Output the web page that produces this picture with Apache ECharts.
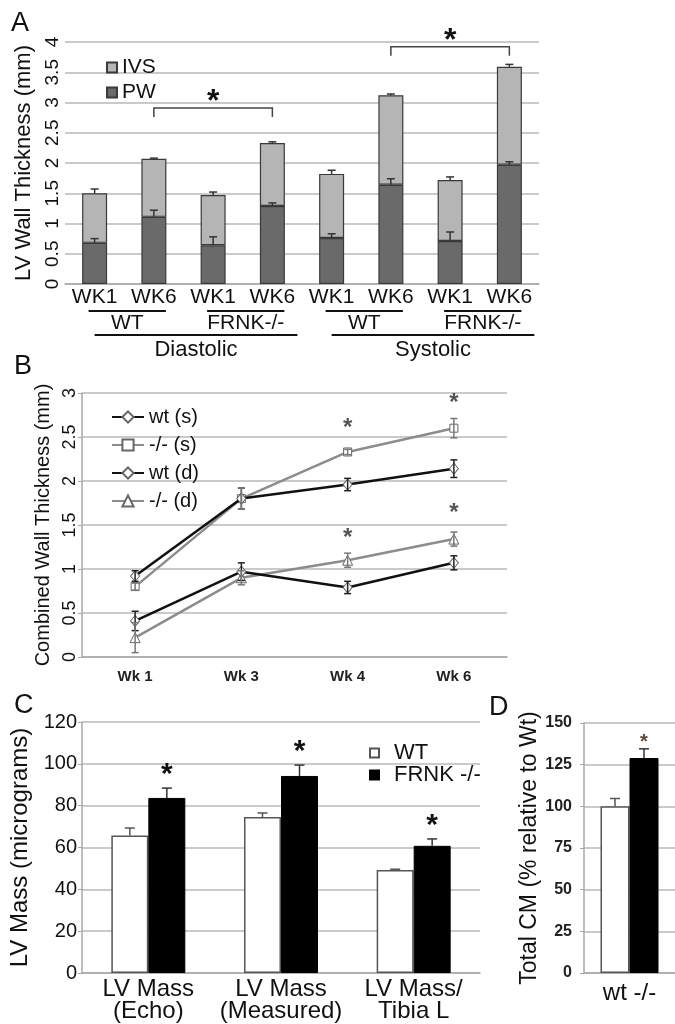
<!DOCTYPE html>
<html>
<head>
<meta charset="utf-8">
<script src="https://cdn.jsdelivr.net/npm/echarts@6/dist/echarts.min.js"></script>
<style>
  html, body { margin: 0; padding: 0; background: #fff; }
  #main { width: 675px; height: 1024px; }
</style>
</head>
<body>
<div id="main"></div>
<script>
var chartDom = document.getElementById('main');
var myChart = echarts.init(chartDom);
var option;

const FONT = '"Liberation Sans", Arial, sans-serif';

// ---- panel A: LV wall thickness (stacked PW + IVS)
const categoriesA = ['WK1', 'WK6', 'WK1', 'WK6', 'WK1', 'WK6', 'WK1', 'WK6'];
const pwA = [0.68, 1.11, 0.64, 1.29, 0.76, 1.64, 0.71, 1.97];
const ivsA = [0.82, 0.96, 0.83, 1.04, 1.06, 1.48, 1.01, 1.62];
const pwErrA = [0.07, 0.11, 0.14, 0.05, 0.07, 0.10, 0.15, 0.05];
const totalErrA = [0.07, 0.01, 0.05, 0.02, 0.06, 0.02, 0.05, 0.04];
const bracketsA = [[1, 3, 2.91], [5, 7, 3.92]];
const groupLabelsA = ['WT', 'FRNK-/-', 'WT', 'FRNK-/-'];
const groupSpansA = [[0, 1], [2, 3], [4, 5], [6, 7]];
const phaseLabelsA = ['Diastolic', 'Systolic'];
const phaseSpansA = [[0, 3], [4, 7]];

// ---- panel B: combined wall thickness over time
const categoriesB = ['Wk 1', 'Wk 3', 'Wk 4', 'Wk 6'];
const wtS = [0.92, 1.80, 1.96, 2.14];
const wtSErr = [0.06, 0.12, 0.07, 0.10];
const koS = [0.80, 1.80, 2.33, 2.60];
const koSErr = [0.04, 0.12, 0.03, 0.11];
const wtDia = [0.41, 0.97, 0.79, 1.07];
const wtDiaErr = [0.11, 0.10, 0.07, 0.08];
const koDia = [0.22, 0.90, 1.10, 1.34];
const koDiaErr = [0.17, 0.08, 0.08, 0.08];
const starsB = [[2, 2.66], [3, 2.94], [2, 1.41], [3, 1.69]];

// ---- panel C: LV mass
const categoriesC = ['LV Mass\n(Echo)', 'LV Mass\n(Measured)', 'LV Mass/\nTibia L'];
const wtC = [65.7, 74.6, 49.2];
const wtCErr = [3.6, 1.9, 0.4];
const koC = [83.7, 94.2, 60.8];
const koCErr = [4.7, 5.2, 3.3];
const sigC = [1, 1, 1];

// ---- panel D: total CM
const categoriesD = ['wt -/-'];
const cmWt = [100];
const cmWtErr = [4.7];
const cmKo = [129];
const cmKoErr = [5.5];
const sigD = [1];

function txt(text, x, y, font, color, align, valign) {
  return {
    type: 'text',
    style: {
      text: text, x: x, y: y, font: font, fill: color || '#111',
      align: align || 'center', verticalAlign: valign || 'middle',
      textAlign: align || 'center', textVerticalAlign: valign || 'middle'
    }
  };
}

function line(x1, y1, x2, y2, color, width) {
  return {
    type: 'line',
    shape: { x1: x1, y1: y1, x2: x2, y2: y2 },
    style: { stroke: color, lineWidth: width }
  };
}

// error bar series: data [catIndex, value, err]
function errorSeries(axis, data, offset, cap, color, both, star) {
  return {
    type: 'custom',
    xAxisIndex: axis, yAxisIndex: axis,
    data: data,
    encode: { x: 0, y: 1 },
    z: 5,
    renderItem: function (params, api) {
      const x = api.value(0), v = api.value(1), e = api.value(2);
      const p = api.coord([x, v]);
      const top = api.coord([x, v + e]);
      const cx = p[0] + offset;
      const ch = [];
      const bottomY = both ? api.coord([x, v - e])[1] : p[1];
      ch.push(line(cx, bottomY, cx, top[1], color, 1.5));
      ch.push(line(cx - cap / 2, top[1], cx + cap / 2, top[1], color, 1.5));
      if (both) ch.push(line(cx - cap / 2, bottomY, cx + cap / 2, bottomY, color, 1.5));
      if (star && star.flags[params.dataIndex]) {
        const fs = star.size;
        ch.push(txt('*', cx, top[1] - star.gap + 0.22 * fs, 'bold ' + fs + 'px ' + FONT, star.color));
      }
      return { type: 'group', children: ch };
    }
  };
}

function zip3(a, b, c) {
  return a.map((v, i) => [i, b[i], c[i]]);
}

const totalA = pwA.map((v, i) => v + ivsA[i]);

const axisGray = '#a8a8a8';
const gridGray = '#b8b8b8';

option = {
  animation: false,
  textStyle: { fontFamily: FONT, color: '#111' },
  graphic: [
    txt('A', 11, 24, '27px ' + FONT, '#111', 'left'),
    txt('B', 14, 367, '27px ' + FONT, '#111', 'left'),
    txt('C', 14, 706, '27px ' + FONT, '#111', 'left'),
    txt('D', 489, 708, '27px ' + FONT, '#111', 'left')
  ],
  legend: [
    {
      data: ['IVS', 'PW'],
      orient: 'vertical',
      left: 101, top: 52,
      itemWidth: 10, itemHeight: 10, itemGap: 4,
      icon: 'rect',
      textStyle: { fontSize: 21, color: '#111', lineHeight: 21 }
    },
    {
      data: ['wt (s)', '-/- (s)', 'wt (d)', '-/- (d)'],
      orient: 'vertical',
      left: 106, top: 402,
      itemWidth: 32, itemHeight: 14, itemGap: 8,
      textStyle: { fontSize: 20, color: '#111', lineHeight: 20 }
    },
    {
      data: ['WT', 'FRNK -/-'],
      orient: 'vertical',
      left: 364, top: 737,
      itemWidth: 9, itemHeight: 9, itemGap: 0,
      icon: 'rect',
      textStyle: { fontSize: 22, color: '#111', lineHeight: 20, padding: [0, 0, 0, 10] }
    }
  ],
  grid: [
    { left: 65, top: 42, width: 474, height: 242 },
    { left: 82, top: 393, width: 425, height: 264 },
    { left: 82, top: 722, width: 398, height: 251 },
    { left: 584, top: 723, width: 96, height: 250 }
  ],
  xAxis: [
    {
      gridIndex: 0, type: 'category', data: categoriesA,
      axisLine: { lineStyle: { color: axisGray, width: 1.5 } },
      axisTick: { length: 4, lineStyle: { color: axisGray } },
      axisLabel: { fontSize: 21, color: '#111', margin: 3, interval: 0 }
    },
    {
      gridIndex: 1, type: 'category', data: categoriesB,
      axisLine: { lineStyle: { color: axisGray, width: 1.5 } },
      axisTick: { length: 6, lineStyle: { color: axisGray } },
      axisLabel: { fontSize: 15, fontWeight: 'bold', color: '#222', margin: 12, interval: 0 }
    },
    {
      gridIndex: 2, type: 'category', data: categoriesC,
      axisLine: { lineStyle: { color: axisGray, width: 1.5 } },
      axisTick: { length: 5, lineStyle: { color: axisGray } },
      axisLabel: { fontSize: 24, color: '#111', margin: 5, lineHeight: 22, interval: 0 }
    },
    {
      gridIndex: 3, type: 'category', data: categoriesD,
      axisLine: { lineStyle: { color: axisGray, width: 1.5 } },
      axisTick: { show: false },
      axisLabel: { fontSize: 24, color: '#111', margin: 8, interval: 0 }
    }
  ],
  yAxis: [
    {
      gridIndex: 0, min: 0, max: 4, interval: 0.5,
      axisLine: { show: false }, axisTick: { show: false },
      splitLine: { lineStyle: { color: gridGray, width: 1.5 } },
      axisLabel: { rotate: 90, fontSize: 19, color: '#111', margin: 3 },
      name: 'LV Wall Thickness (mm)', nameLocation: 'middle', nameGap: 25,
      nameTextStyle: { fontSize: 22, color: '#111' }
    },
    {
      gridIndex: 1, min: 0, max: 3, interval: 0.5,
      axisLine: { show: true, lineStyle: { color: axisGray, width: 1.5 } },
      axisTick: { show: true, length: 4, lineStyle: { color: axisGray } },
      splitLine: { lineStyle: { color: gridGray, width: 1.5 } },
      axisLabel: { rotate: 90, fontSize: 18, color: '#111', margin: 3 },
      name: 'Combined Wall Thickness (mm)', nameLocation: 'middle', nameGap: 24,
      nameTextStyle: { fontSize: 20, color: '#111' }
    },
    {
      gridIndex: 2, min: 0, max: 120, interval: 20,
      axisLine: { show: true, lineStyle: { color: axisGray, width: 1.5 } },
      axisTick: { show: true, length: 4, lineStyle: { color: axisGray } },
      splitLine: { lineStyle: { color: gridGray, width: 1.5 } },
      axisLabel: { fontSize: 20, color: '#111', margin: 5 },
      name: 'LV Mass (micrograms)', nameLocation: 'middle', nameGap: 39,
      nameTextStyle: { fontSize: 24, color: '#111' }
    },
    {
      gridIndex: 3, min: 0, max: 150, interval: 25,
      axisLine: { show: true, lineStyle: { color: axisGray, width: 1.5 } },
      axisTick: { show: true, length: 4, lineStyle: { color: axisGray } },
      splitLine: { lineStyle: { color: gridGray, width: 1.5 } },
      axisLabel: { fontSize: 16, fontWeight: 'bold', color: '#222', margin: 12 },
      name: 'Total CM (% relative to Wt)', nameLocation: 'middle', nameGap: 42,
      nameTextStyle: { fontSize: 23, color: '#111' }
    }
  ],
  series: [
    // panel A
    {
      name: 'PW', type: 'bar', stack: 'a', xAxisIndex: 0, yAxisIndex: 0,
      data: pwA, barWidth: 25,
      itemStyle: { color: '#6a6a6a', borderColor: '#3a3a3a', borderWidth: 1.2 }
    },
    {
      name: 'IVS', type: 'bar', stack: 'a', xAxisIndex: 0, yAxisIndex: 0,
      data: ivsA, barWidth: 25,
      itemStyle: { color: '#b5b5b5', borderColor: '#3a3a3a', borderWidth: 1.2 }
    },
    errorSeries(0, zip3(pwA, pwA, pwErrA), 0, 8, '#333', false),
    errorSeries(0, zip3(totalA, totalA, totalErrA), 0, 8, '#333', false),
    {
      type: 'custom', xAxisIndex: 0, yAxisIndex: 0,
      data: bracketsA, encode: { x: [0, 1], y: 2 },
      renderItem: function (params, api) {
        const p1 = api.coord([api.value(0), api.value(2)]);
        const p2 = api.coord([api.value(1), api.value(2)]);
        const fs = 32;
        return {
          type: 'group', children: [
            {
              type: 'polyline',
              shape: { points: [[p1[0], p1[1] + 9], [p1[0], p1[1]], [p2[0], p2[1]], [p2[0], p2[1] + 9]] },
              style: { stroke: '#444', lineWidth: 1.5, fill: null }
            },
            txt('*', (p1[0] + p2[0]) / 2, p1[1] - 13 + 0.22 * fs, 'bold ' + fs + 'px ' + FONT, '#111')
          ]
        };
      }
    },
    {
      type: 'custom', xAxisIndex: 0, yAxisIndex: 0,
      data: groupSpansA.map(s => [s[0], s[1], 0]), encode: { x: [0, 1], y: 2 },
      renderItem: function (params, api) {
        const p1 = api.coord([api.value(0), 0]);
        const p2 = api.coord([api.value(1), 0]);
        const x1 = p1[0] - 6, x2 = p2[0] + 12;
        return {
          type: 'group', children: [
            line(x1, p1[1] + 27, x2, p1[1] + 27, '#111', 2),
            txt(groupLabelsA[params.dataIndex], (x1 + x2) / 2, p1[1] + 39, '21px ' + FONT, '#111')
          ]
        };
      }
    },
    {
      type: 'custom', xAxisIndex: 0, yAxisIndex: 0,
      data: phaseSpansA.map(s => [s[0], s[1], 0]), encode: { x: [0, 1], y: 2 },
      renderItem: function (params, api) {
        const p1 = api.coord([api.value(0), 0]);
        const p2 = api.coord([api.value(1), 0]);
        const x1 = p1[0], x2 = p2[0] + 25;
        return {
          type: 'group', children: [
            line(x1, p1[1] + 51, x2, p1[1] + 51, '#111', 2),
            txt(phaseLabelsA[params.dataIndex], (x1 + x2) / 2, p1[1] + 66, '22px ' + FONT, '#111')
          ]
        };
      }
    },

    // panel B
    errorSeries(1, zip3(wtS, wtS, wtSErr), 0, 7, '#222', true),
    errorSeries(1, zip3(koS, koS, koSErr), 0, 7, '#777', true),
    errorSeries(1, zip3(wtDia, wtDia, wtDiaErr), 0, 7, '#222', true),
    errorSeries(1, zip3(koDia, koDia, koDiaErr), 0, 7, '#777', true),
    {
      name: 'wt (s)', type: 'line', xAxisIndex: 1, yAxisIndex: 1, data: wtS,
      symbol: 'diamond', symbolSize: [9, 11], z: 4,
      lineStyle: { color: '#111', width: 2.5 },
      itemStyle: { color: '#fff', borderColor: '#666', borderWidth: 1 }
    },
    {
      name: '-/- (s)', type: 'line', xAxisIndex: 1, yAxisIndex: 1, data: koS,
      symbol: 'rect', symbolSize: 8, z: 3,
      lineStyle: { color: '#8c8c8c', width: 2.5 },
      itemStyle: { color: '#fff', borderColor: '#666', borderWidth: 1 }
    },
    {
      name: 'wt (d)', type: 'line', xAxisIndex: 1, yAxisIndex: 1, data: wtDia,
      symbol: 'diamond', symbolSize: [9, 11], z: 4,
      lineStyle: { color: '#111', width: 2.5 },
      itemStyle: { color: '#fff', borderColor: '#666', borderWidth: 1 }
    },
    {
      name: '-/- (d)', type: 'line', xAxisIndex: 1, yAxisIndex: 1, data: koDia,
      symbol: 'triangle', symbolSize: 10, z: 3,
      lineStyle: { color: '#8c8c8c', width: 2.5 },
      itemStyle: { color: '#fff', borderColor: '#666', borderWidth: 1 }
    },
    {
      type: 'scatter', xAxisIndex: 1, yAxisIndex: 1, data: starsB,
      symbolSize: 0, silent: true,
      label: {
        show: true, position: 'inside', formatter: '*',
        fontSize: 24, fontWeight: 'bold', color: '#2a2a2a', offset: [0, 5]
      }
    },

    // panel C
    {
      name: 'WT', type: 'bar', xAxisIndex: 2, yAxisIndex: 2, data: wtC,
      barWidth: 37, barGap: '0%',
      itemStyle: { color: '#fff', borderColor: '#555', borderWidth: 1.5 }
    },
    {
      name: 'FRNK -/-', type: 'bar', xAxisIndex: 2, yAxisIndex: 2, data: koC,
      barWidth: 37, barGap: '0%',
      itemStyle: { color: '#000', borderColor: '#000', borderWidth: 1 }
    },
    errorSeries(2, zip3(wtC, wtC, wtCErr), -18.5, 10, '#555', false),
    errorSeries(2, zip3(koC, koC, koCErr), 18.5, 10, '#333', false,
      { flags: sigC, size: 30, gap: 20, color: '#111' }),

    // panel D
    {
      name: 'Total CM wt', type: 'bar', xAxisIndex: 3, yAxisIndex: 3, data: cmWt,
      barWidth: 29, barGap: '0%',
      itemStyle: { color: '#fff', borderColor: '#555', borderWidth: 1.5 }
    },
    {
      name: 'Total CM -/-', type: 'bar', xAxisIndex: 3, yAxisIndex: 3, data: cmKo,
      barWidth: 29, barGap: '0%',
      itemStyle: { color: '#000', borderColor: '#000', borderWidth: 1 }
    },
    errorSeries(3, zip3(cmWt, cmWt, cmWtErr), -14.5, 10, '#555', false),
    errorSeries(3, zip3(cmKo, cmKo, cmKoErr), 14.5, 10, '#333', false,
      { flags: sigD, size: 20, gap: 11, color: '#5a4a3a' })
  ]
};

option && myChart.setOption(option);
</script>
</body>
</html>
